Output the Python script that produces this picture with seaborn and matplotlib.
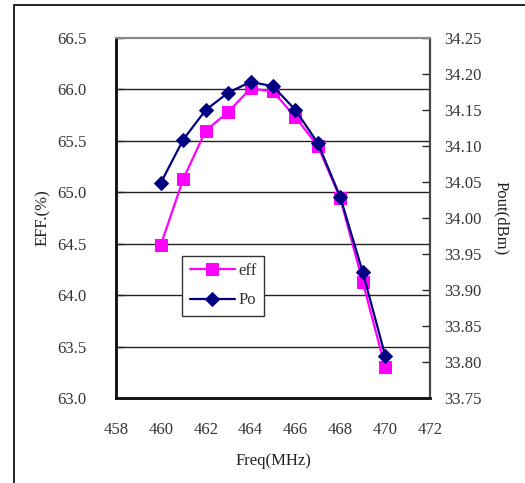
import matplotlib
matplotlib.use("Agg")
import matplotlib.pyplot as plt
from matplotlib.patches import Rectangle
import seaborn as sns
import pandas as pd

freq = [460, 461, 462, 463, 464, 465, 466, 467, 468, 469, 470]
eff = [64.49, 65.13, 65.60, 65.78, 66.01, 65.98, 65.73, 65.45, 64.94, 64.13, 63.30]
pout = [34.049, 34.109, 34.150, 34.174, 34.189, 34.183, 34.150, 34.104, 34.029, 33.925, 33.809]
x_ticks = [458, 460, 462, 464, 466, 468, 470, 472]
left_ticks = [63.0, 63.5, 64.0, 64.5, 65.0, 65.5, 66.0, 66.5]
right_ticks = [33.75, 33.80, 33.85, 33.90, 33.95, 34.00, 34.05, 34.10, 34.15, 34.20, 34.25]

sns.set_style("white")
plt.rcParams['font.family'] = ['Liberation Serif', 'DejaVu Serif']

df = pd.DataFrame({"freq": freq, "eff": eff, "pout": pout})

fig = plt.figure(figsize=(5.25, 4.83), dpi=100)
ax = fig.add_axes([116/525, 1 - 398/483, (430-116)/525, (398-38)/483])
ax2 = ax.twinx()

sns.lineplot(data=df, x="freq", y="eff", ax=ax, color="#FF00FF", lw=1.6,
             marker="s", markersize=9, markeredgecolor="#FF00FF", label="eff", legend=False)
sns.lineplot(data=df, x="freq", y="pout", ax=ax2, color="#000080", lw=1.6,
             marker="D", markersize=7, markeredgecolor="#000080", label="Po", legend=False)

ax.set_xlim(458, 472)
ax.set_ylim(63.0, 66.5)
ax2.set_ylim(33.75, 34.25)
ax.set_xticks(x_ticks)
ax.set_xticklabels([str(v) for v in x_ticks])
ax.set_yticks(left_ticks)
ax.set_yticklabels([f"{v:.1f}" for v in left_ticks])
ax2.set_yticks(right_ticks)
ax2.set_yticklabels([f"{v:.2f}" for v in right_ticks])

for yv in left_ticks[1:-1]:
    ax.axhline(yv, color="#222222", lw=1.0, zorder=0)

fs = 12
ax.tick_params(axis="y", direction="in", length=6, width=1, pad=21, labelsize=fs)
ax.tick_params(axis="x", direction="in", length=6, width=1, pad=17, labelsize=fs)
ax2.tick_params(axis="y", direction="in", length=6, width=1, pad=10, labelsize=fs)
for t in ax.get_xticklabels() + ax.get_yticklabels() + ax2.get_yticklabels():
    t.set_color("#333333")

for a in (ax, ax2):
    a.spines["left"].set_color("#111111")
    a.spines["left"].set_linewidth(1.8)
    a.spines["bottom"].set_color("#111111")
    a.spines["bottom"].set_linewidth(1.8)
    a.spines["top"].set_color("#888888")
    a.spines["top"].set_linewidth(1.5)
    a.spines["right"].set_color("#444444")
    a.spines["right"].set_linewidth(1.5)

ax.set_xlabel("Freq(MHz)", fontsize=fs, color="#222222", labelpad=11)
ax.set_ylabel("EFF.(%)", fontsize=fs, color="#222222", labelpad=5)
ax2.set_ylabel("Pout(dBm)", fontsize=fs, color="#222222", rotation=-90, labelpad=20)

h1, l1 = ax.get_legend_handles_labels()
h2, l2 = ax2.get_legend_handles_labels()
leg = ax2.legend(h1 + h2, l1 + l2, loc="lower left", bbox_to_anchor=(0.185, 0.205),
                 fontsize=fs, frameon=True, fancybox=False, framealpha=1,
                 edgecolor="#333333", borderpad=0.45, handlelength=2.7,
                 handletextpad=0.2, labelspacing=0.8)
leg.get_frame().set_linewidth(1.0)
for t in leg.get_texts():
    t.set_color("#333333")

fig.patches.append(Rectangle((14/525, -0.1), 1.2, 0.1 + (483-5)/483, transform=fig.transFigure,
                             fill=False, edgecolor="black", lw=1.2))

fig.savefig("out.png", dpi=100)
